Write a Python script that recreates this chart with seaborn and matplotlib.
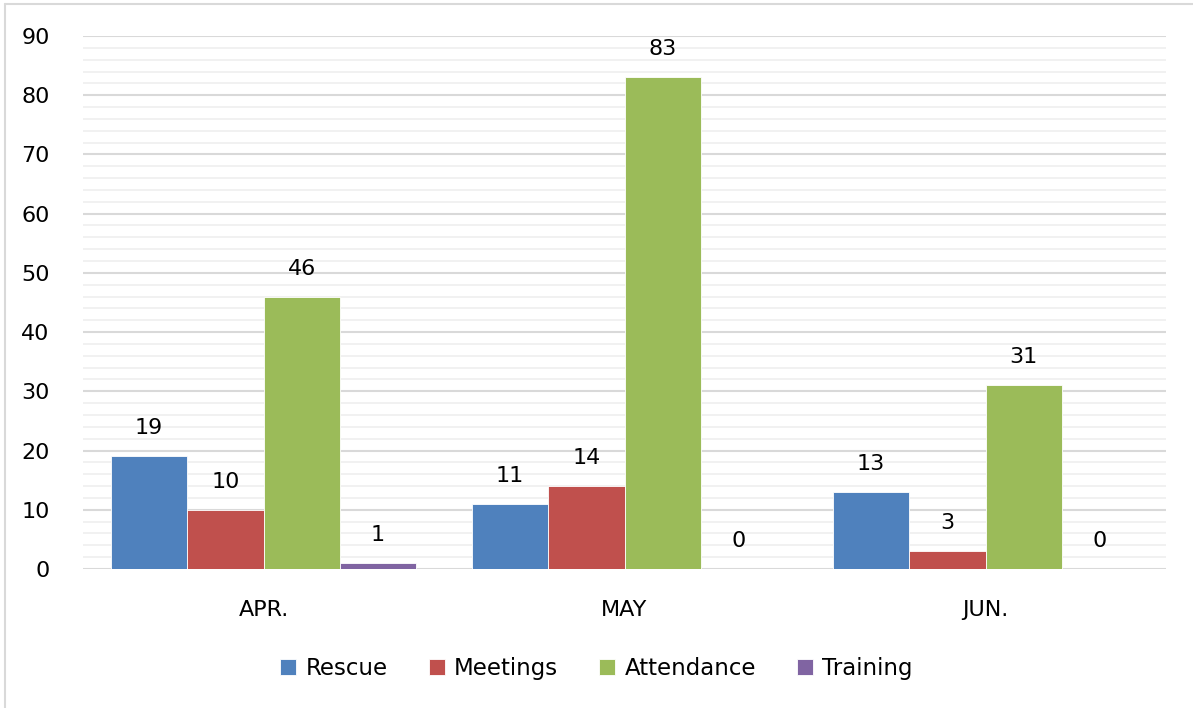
import seaborn as sns
import matplotlib.pyplot as plt
import pandas as pd
from matplotlib.lines import Line2D

months = ['APR.', 'MAY', 'JUN.']
series = ['Rescue', 'Meetings', 'Attendance', 'Training']
rescue = [19, 11, 13]
meetings = [10, 14, 3]
attendance = [46, 83, 31]
training = [1, 0, 0]
colors = ['#4F81BD', '#C0504D', '#9BBB59', '#8064A2']

# long form table for seaborn
rows = []
for name, vals in zip(series, [rescue, meetings, attendance, training]):
    for m, v in zip(months, vals):
        rows.append({'month': m, 'series': name, 'value': v})
df = pd.DataFrame(rows)

sns.set_style('white')
plt.rcParams['font.family'] = ['DejaVu Sans']
plt.rcParams['text.color'] = 'black'

fig = plt.figure(figsize=(11.93, 7.08), dpi=100)
ax = fig.add_axes([0.0696, 0.1963, 0.9078, 0.7529])

sns.barplot(data=df, x='month', y='value', hue='series', order=months,
            hue_order=series, palette=colors, width=0.845, saturation=1,
            edgecolor='white', linewidth=0.6, ax=ax, legend=True)

for c in ax.containers:
    ax.bar_label(c, padding=13, fontsize=16, color='black')

ax.set_ylim(0, 90)
ax.set_xlim(-0.5, 2.5)
ax.set_yticks(range(0, 91, 10))
ax.set_yticks(range(0, 91, 2), minor=True)
ax.grid(axis='y', which='major', color='#d9d9d9', linewidth=1.5)
ax.grid(axis='y', which='minor', color='#f0f0f0', linewidth=1.3)
ax.set_axisbelow(True)
for s in ax.spines.values():
    s.set_visible(False)
ax.tick_params(axis='both', which='both', length=0, labelsize=16, colors='black')
ax.tick_params(axis='y', pad=24)
ax.tick_params(axis='x', pad=22)
ax.set_xlabel('')
ax.set_ylabel('')

handles, labels = ax.get_legend_handles_labels()
ax.legend_.remove()
fig.legend(handles, labels, loc='center', bbox_to_anchor=(0.5, 0.056), ncol=4,
           frameon=False, fontsize=16.5, handlelength=0.7, handleheight=0.7,
           columnspacing=1.8, handletextpad=0.4, labelcolor='black')

# thin border on left and top like the cropped chart frame
fig.add_artist(Line2D([4.5 / 1193, 4.5 / 1193], [0, 1 - 4 / 708],
                      transform=fig.transFigure, color='#d9d9d9', linewidth=1.5))
fig.add_artist(Line2D([4.5 / 1193, 1], [1 - 4 / 708, 1 - 4 / 708],
                      transform=fig.transFigure, color='#d9d9d9', linewidth=1.5))

fig.savefig('out.png', dpi=100, facecolor='white')
